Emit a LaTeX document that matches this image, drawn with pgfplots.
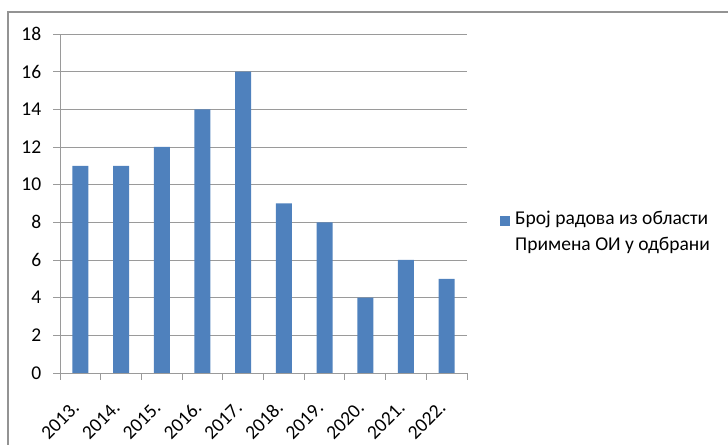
\documentclass[border=0pt]{standalone}
\usepackage{pgfplots}
\pgfplotsset{compat=1.18}
\usepackage{fontspec}
\setmainfont{Carlito}
\definecolor{barblue}{HTML}{4F81BD}
\definecolor{gridgray}{HTML}{9A9A9A}
\begin{document}
\fontsize{19.6}{26}\selectfont
\begin{tikzpicture}[x=1bp,y=1bp]
\useasboundingbox (0,0) rectangle (728,445);
\draw[color=gray!85, line width=1.5bp] (8,0) -- (8,433) -- (728,433);
\begin{axis}[
  at={(60bp,72bp)}, anchor=south west,
  scale only axis, width=407bp, height=339bp,
  ybar, bar width=16bp,
  xmin=-0.5, xmax=9.5, ymin=0, ymax=18,
  ytick={0,2,...,18},
  xtick={0,...,9},
  xticklabels={2013.,2014.,2015.,2016.,2017.,2018.,2019.,2020.,2021.,2022.},
  minor xtick={-0.5,0.5,...,9.5},
  axis x line*=bottom, axis y line*=left,
  axis line style={gridgray, line width=0.9bp, -},
  ymajorgrids, major grid style={gridgray, line width=0.9bp},
  tick align=outside,
  major tick length=7bp, minor tick length=7bp,
  xtick style={draw=none},
  minor x tick style={gridgray, line width=0.9bp, draw=gridgray},
  ytick style={gridgray, line width=0.9bp},
  /pgf/number format/assume math mode=true,
  tick label style={font=\fontsize{19.6}{22}\selectfont, black},
  xticklabel style={rotate=45, anchor=north east, inner sep=1bp, xshift=-19bp, yshift=-6.5bp},
  yticklabel style={xshift=-5bp},
  legend style={draw=none, fill=none, at={(1.081,0.485)}, anchor=north west,
    cells={align=left}, font=\fontsize{19.6}{26}\selectfont, inner sep=0pt},
  legend image code/.code={\fill[barblue] (0bp,6bp) rectangle (10bp,16bp); \path (13bp,11bp);},
]
\addplot[fill=barblue, draw=none] coordinates {
(0,11) (1,11) (2,12) (3,14) (4,16) (5,9) (6,8) (7,4) (8,6) (9,5)};
\addlegendentry{Број радова из области\\Примена ОИ у одбрани}
\end{axis}
\end{tikzpicture}
\end{document}
